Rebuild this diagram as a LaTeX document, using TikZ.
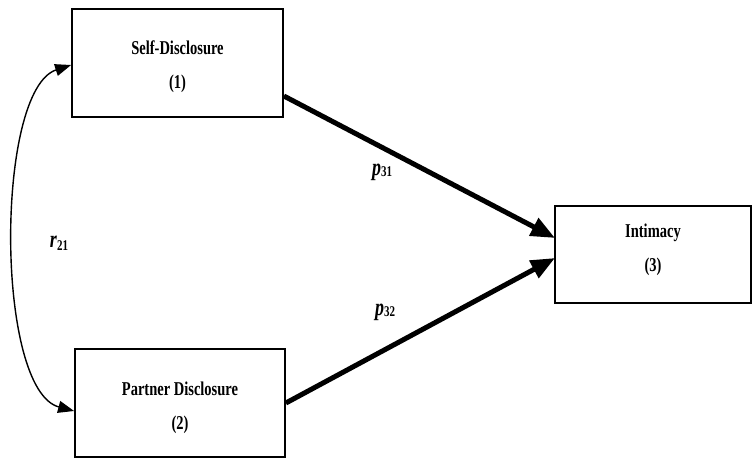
\documentclass[tikz,border=0pt]{standalone}
\usepackage{fontspec}
\usepackage{graphicx}
\setmainfont{Liberation Serif}
\usetikzlibrary{arrows.meta}
\newcommand\vs[1]{\scalebox{1}[1.35]{#1}}
\begin{document}
\begin{tikzpicture}[x=1pt,y=1pt,
  box/.style={draw, line width=1.8pt, minimum width=#1, inner sep=0pt},
  txt/.style={align=center, font=\fontsize{14.5}{34}\selectfont\bfseries, inner sep=0pt},
  path/.style={line width=5pt, -{Triangle[length=24pt,width=19pt]}, shorten >=-1pt},
  corr/.style={line width=1.4pt, {Triangle[length=16pt,width=12pt]}-{Triangle[length=16pt,width=12pt]}},
  lab/.style={font=\fontsize{18}{20}\selectfont\bfseries\itshape}]
\useasboundingbox (0,0) rectangle (753,-459);
\node[box=211pt, minimum height=108pt] (b1) at (177.5,-63) {};
\node[box=210pt, minimum height=108pt] (b2) at (180,-403) {};
\node[box=196pt, minimum height=97pt] (b3) at (653,-254.5) {};
\node[txt] (t1) at (177.5,-67) {\vs{Self-Disclosure}\\\vs{(1)}};
\node[txt] (t2) at (180,-408) {\vs{Partner Disclosure}\\\vs{(2)}};
\node[txt] (t3) at (653,-249.5) {\vs{Intimacy}\\\vs{(3)}};
\coordinate (s1) at ([yshift=-33pt]b1.east);
\coordinate (e1) at ([yshift=17pt]b3.west);
\coordinate (s2) at ([yshift=0pt]b2.east);
\coordinate (e2) at ([yshift=-4pt]b3.west);
\draw[path] (s1) -- (e1);
\draw[path] (s2) -- (e2);
\coordinate (c1) at ([yshift=-2pt]b1.west);
\coordinate (c2) at ([yshift=-8pt]b2.west);
\draw[corr] (c1) .. controls (-5,-90) and (-5,-390) .. (c2);
\node[lab] (r21) at (59,-243) {\vs{r\raisebox{-0.25ex}{\upshape\fontsize{11}{12}\selectfont 21}}};
\node[lab] (p31) at (382,-172) {\vs{p\raisebox{-0.1ex}{\upshape\fontsize{11}{12}\selectfont 31}}};
\node[lab] (p32) at (385,-312) {\vs{p\raisebox{-0.1ex}{\upshape\fontsize{11}{12}\selectfont 32}}};
\end{tikzpicture}
\end{document}
